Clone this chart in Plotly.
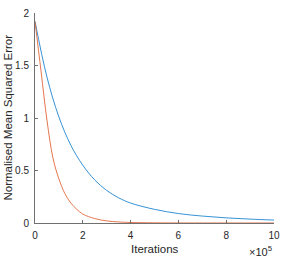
import plotly.graph_objects as go

# iterations in units of 1e5
blue_x = [0, 0.5, 1, 1.5, 2, 2.5, 3, 3.5, 4, 5, 6, 7, 8, 9, 10]
blue_y = [1.92, 1.39, 1.01, 0.74, 0.55, 0.41, 0.31, 0.24, 0.19, 0.13, 0.09, 0.066, 0.049, 0.037, 0.028]

orange_x = [0, 0.25, 0.5, 0.75, 1, 1.25, 1.5, 1.75, 2, 2.5, 3, 3.5, 4, 5, 6, 8, 10]
orange_y = [1.92, 1.45, 0.98, 0.62, 0.42, 0.28, 0.19, 0.13, 0.085, 0.042, 0.02, 0.01, 0.005, 0.0015, 0.0005, 0.0001, 0.0]

x_ticks = [0, 2, 4, 6, 8, 10]
y_ticks = [0, 0.5, 1, 1.5, 2]
y_tick_labels = ["0", "0.5", "1", "1.5", "2"]

fig = go.Figure()
fig.add_trace(go.Scatter(x=blue_x, y=blue_y, mode="lines", line=dict(color="#1f86d0", width=0.9, shape="spline")))
fig.add_trace(go.Scatter(x=orange_x, y=orange_y, mode="lines", line=dict(color="#e2673a", width=0.9, shape="spline")))

tick_font = dict(family="Liberation Sans, Arial, sans-serif", size=10, color="#262626")
label_font = dict(family="Liberation Sans, Arial, sans-serif", size=11.5, color="#262626")
axis_col = "#707070"
fig.update_layout(
    width=287, height=258,
    margin=dict(l=35, r=9, t=7, b=35),
    paper_bgcolor="white", plot_bgcolor="white",
    showlegend=False,
    font=tick_font,
    xaxis=dict(range=[0, 10], tickvals=x_ticks, ticktext=[str(v) for v in x_ticks],
               ticks="inside", ticklen=3, tickcolor=axis_col, showline=True, linecolor=axis_col,
               linewidth=1, showgrid=False, zeroline=False, ticklabelstandoff=3, tickfont=tick_font),
    yaxis=dict(range=[0, 2], tickvals=y_ticks, ticktext=y_tick_labels,
               ticks="inside", ticklen=3, tickcolor=axis_col, showline=True, linecolor=axis_col,
               linewidth=1, showgrid=False, zeroline=False, ticklabelstandoff=3, tickfont=tick_font),
    annotations=[
        dict(text="Iterations", xref="paper", yref="paper", x=0.5, y=-0.122, showarrow=False,
             xanchor="center", yanchor="middle", font=label_font),
        dict(text="Normalised Mean Squared Error", xref="paper", yref="paper", x=-0.115, y=0.5,
             textangle=-90, showarrow=False, xanchor="center", yanchor="middle", font=label_font),
        dict(text="×10<sup>5</sup>", xref="paper", yref="paper", x=1.0, y=-0.135, showarrow=False,
             xanchor="right", yanchor="middle", font=dict(family="Liberation Sans, Arial, sans-serif", size=11, color="#262626")),
    ],
)
fig.write_html("out.html", config={"displayModeBar": False},
               post_script="document.body.style.margin='0';")
